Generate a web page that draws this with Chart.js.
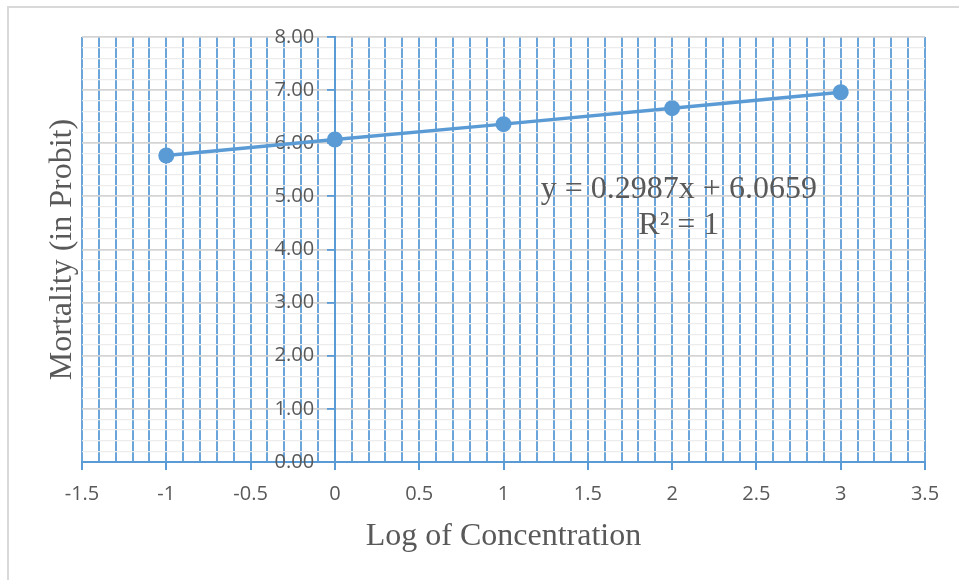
<!DOCTYPE html>
<html>
<head>
<meta charset="utf-8">
<script src="https://cdn.jsdelivr.net/npm/chart.js@4/dist/chart.umd.min.js"></script>
<style>
  html, body { margin: 0; padding: 0; background: #fff; }
  #wrap { width: 959px; height: 580px; position: relative; }
</style>
</head>
<body>
<div id="wrap"><canvas id="c" width="959" height="580"></canvas></div>
<script>
// ---- data ----
const logConcentration = [-1, 0, 1, 2, 3];
const mortalityProbit = [5.77, 6.07, 6.36, 6.66, 6.96];
const xTitle = 'Log of Concentration';
const yTitle = 'Mortality (in Probit)';
const trendEquation = 'y = 0.2987x + 6.0659';
const trendR2 = 'R\u00B2 = 1';

const BLUE = '#5B9BD5';
const GRID_BLUE = 'rgba(91,155,213,0.9)';
const TEXT = '#595959';
const SERIF = '"Liberation Serif", "Times New Roman", serif';
const SANS = '"Open Sans", sans-serif';

const points = logConcentration.map((x, i) => ({ x: x, y: mortalityProbit[i] }));

const isMajorX = v => Math.abs(Math.round(v * 10)) % 5 === 0;
const isMajorY = v => Math.abs(v - Math.round(v)) < 1e-6;

const framePlugin = {
  id: 'frame',
  beforeDraw(chart) {
    const ctx = chart.ctx;
    ctx.save();
    ctx.fillStyle = '#fff';
    ctx.fillRect(0, 0, chart.width, chart.height);
    ctx.strokeStyle = '#d9d9d9';
    ctx.lineWidth = 2;
    ctx.beginPath();
    ctx.moveTo(8, chart.height);
    ctx.lineTo(8, 7);
    ctx.lineTo(chart.width, 7);
    ctx.stroke();
    ctx.restore();
  }
};

const trendLabelPlugin = {
  id: 'trendLabel',
  afterDatasetsDraw(chart) {
    const ctx = chart.ctx;
    const xs = chart.scales.x, ys = chart.scales.y;
    ctx.save();
    ctx.fillStyle = TEXT;
    ctx.font = '32px ' + SERIF;
    ctx.textAlign = 'center';
    ctx.textBaseline = 'middle';
    ctx.fillText(trendEquation, xs.getPixelForValue(2.04), ys.getPixelForValue(5.12));
    ctx.fillText(trendR2, xs.getPixelForValue(2.04), ys.getPixelForValue(4.45));
    ctx.restore();
  }
};

new Chart(document.getElementById('c'), {
  type: 'scatter',
  data: {
    datasets: [{
      data: points,
      showLine: true,
      borderColor: BLUE,
      borderWidth: 3.5,
      pointRadius: 8,
      pointHoverRadius: 8,
      pointBackgroundColor: BLUE,
      pointBorderWidth: 0,
      tension: 0
    }]
  },
  options: {
    responsive: false,
    animation: false,
    layout: { padding: { top: 37, right: 34, left: 0, bottom: 0 } },
    plugins: { legend: { display: false }, tooltip: { enabled: false } },
    scales: {
      x: {
        type: 'linear',
        min: -1.5,
        max: 3.5,
        afterFit(s) { s.height = 118; },
        ticks: {
          stepSize: 0.1,
          autoSkip: false,
          maxRotation: 0,
          padding: 12,
          color: TEXT,
          font: { family: SANS, size: 20 },
          callback(v) { return isMajorX(v) ? String(Math.round(v * 10) / 10) : ''; }
        },
        grid: {
          color: GRID_BLUE,
          lineWidth: 2,
          drawTicks: true,
          tickLength: 8,
          tickColor: ctx => (ctx.tick && isMajorX(ctx.tick.value)) ? BLUE : 'rgba(0,0,0,0)'
        },
        border: { display: true, color: BLUE, width: 2 },
        title: {
          display: true,
          text: xTitle,
          color: TEXT,
          font: { family: SERIF, size: 32 },
          padding: { top: 0, bottom: 24 }
        }
      },
      y: {
        type: 'linear',
        min: 0,
        max: 8,
        position: { x: 0 },
        ticks: {
          stepSize: 0.2,
          autoSkip: false,
          color: TEXT,
          font: { family: SANS, size: 20 },
          callback(v) { return isMajorY(v) ? v.toFixed(2) + '    ' : ''; }
        },
        grid: {
          z: -1,
          color: ctx => (ctx.tick && isMajorY(ctx.tick.value)) ? '#d4d4d4' : '#ececec',
          lineWidth: ctx => (ctx.tick && isMajorY(ctx.tick.value)) ? 1.8 : 1.3,
          drawTicks: true,
          tickLength: 7,
          tickColor: ctx => (ctx.tick && isMajorY(ctx.tick.value)) ? BLUE : 'rgba(0,0,0,0)'
        },
        border: { display: true, color: BLUE, width: 2 }
      },
      yTitle: {
        type: 'linear',
        position: 'left',
        min: 0,
        max: 8,
        afterFit(s) { s.width = 82; },
        ticks: { display: false },
        grid: { display: false, drawTicks: false },
        border: { display: false },
        title: {
          display: true,
          text: yTitle,
          color: TEXT,
          font: { family: SERIF, size: 32 },
          padding: { top: 43, bottom: 0 }
        }
      }
    }
  },
  plugins: [framePlugin, trendLabelPlugin]
});
</script>
</body>
</html>
